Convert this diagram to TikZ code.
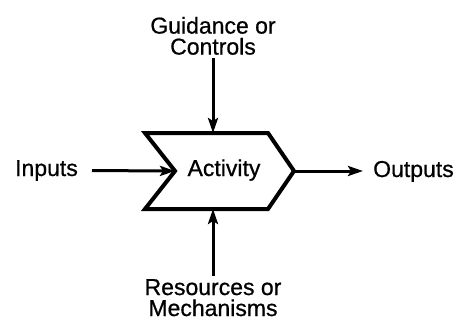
\documentclass[tikz,border=0pt]{standalone}
\usepackage{fontspec}
\setmainfont[FakeBold=0.7]{Liberation Sans}
\usetikzlibrary{arrows.meta}
\begin{document}
\begin{tikzpicture}[x=1pt,y=-1pt,
  label/.style={inner sep=0pt,font=\fontsize{23}{21}\selectfont},
  flow/.style={line width=3pt,-{Stealth[length=15pt,width=10pt,inset=3pt]}},
  chevron/.style={line width=4pt,line join=miter}]
\useasboundingbox (0,0) rectangle (459,327);
% activity chevron outline
\coordinate (tl) at (145,133);
\coordinate (tr) at (268,133);
\coordinate (tip) at (294,171);
\coordinate (br) at (268,209);
\coordinate (bl) at (145,209);
\coordinate (notch) at (175,171);
\coordinate (ctop) at (213,133);
\coordinate (cbot) at (213,209);
\draw[chevron] (tl) -- (tr) -- (tip) -- (br) -- (bl) -- (notch) -- cycle;
\node[label,anchor=base] (act) at (224,176) {Activity};
% labels
\node[label,anchor=base east] (in) at (78,176) {Inputs};
\node[label,anchor=base west] (out) at (373,177) {Outputs};
\node[label,anchor=south,align=center] (ctl) at (213,55) {Guidance or\\Controls};
\node[label,anchor=north,align=center] (res) at (213,279) {Resources or\\Mechanisms};
% arrows
\draw[flow,shorten <=14pt] (in.east) -- (notch);
\draw[flow,shorten >=10pt] (tip) -- (out.west |- tip);
\draw[flow,shorten <=3pt] (ctl.south) -- (ctop);
\draw[flow,shorten <=3pt] (res.north) -- (cbot);
\end{tikzpicture}
\end{document}
